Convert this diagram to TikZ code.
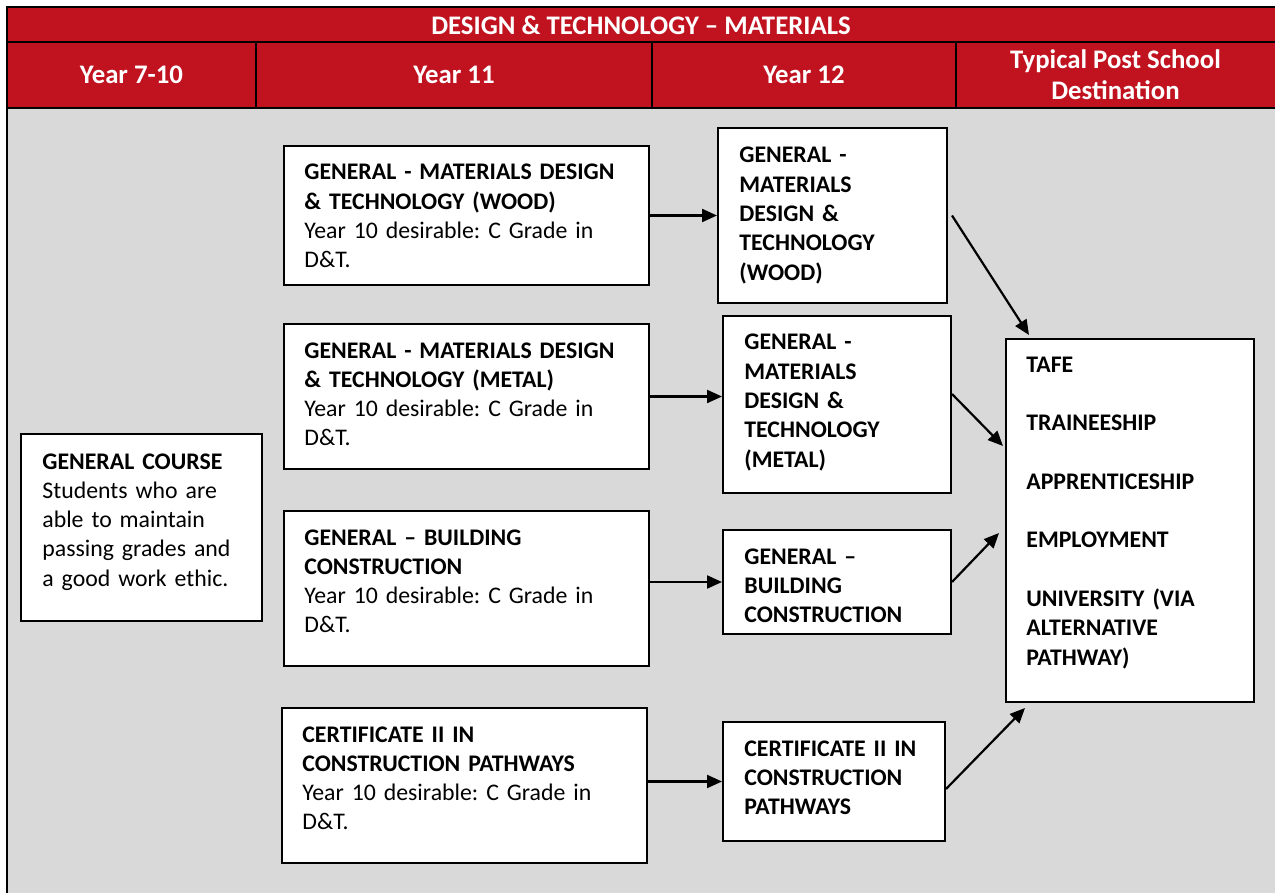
\documentclass[tikz,border=0pt]{standalone}
\usepackage{fontspec}
\setmainfont{Carlito}
\usetikzlibrary{arrows.meta}
\definecolor{hdrred}{HTML}{C0121F}
\definecolor{bodygray}{HTML}{D9D9D9}
\frenchspacing
\tikzset{
	box/.style={draw, fill=white, line width=1pt, inner sep=0pt},
	txt/.style={anchor=base west, text width=190pt, align=left, inner sep=0pt,
		font=\fontsize{11.9}{14.65}\selectfont},
	hdr/.style={text=white, align=center, inner sep=0pt,
		font=\bfseries\fontsize{13.4}{15.5}\selectfont},
	link/.style={-{Triangle[length=7.5pt,width=6.5pt]}, line width=1.1pt},
}
\begin{document}
\begin{tikzpicture}
		[x=0.5pt,y=-0.5pt]
		\useasboundingbox (0,0) rectangle (1275,893);
		
		% table frame
		\fill[bodygray] (7,108) rectangle (1275,893);
		\fill[hdrred] (7,7) rectangle (1275,108);
		\draw[line width=1pt] (1275,7) -- (7,7) -- (7,893);
		\draw[line width=1pt] (7,42) -- (1275,42);
		\draw[line width=1pt] (7,108) -- (1275,108);
		\draw[line width=1pt] (256,42) -- (256,108);
		\draw[line width=1pt] (652,42) -- (652,108);
		\draw[line width=1pt] (956,42) -- (956,108);
		
		\node[hdr] (title) at (641,25) {DESIGN \& TECHNOLOGY -- MATERIALS};
		\node[hdr] (y710) at (131.5,75) {Year 7-10};
		\node[hdr] (y11) at (454,75) {Year 11};
		\node[hdr] (y12) at (804,75) {Year 12};
		\node[hdr] (ypost) at (1115.5,75) {Typical Post School\\Destination};
		
		% boxes
		\node[box, minimum width=120.5pt, minimum height=93.5pt] (gc) at (141.5,527.5) {};
		\node[box, minimum width=182.5pt, minimum height=69.5pt] (w11) at (466.5,215.5) {};
		\node[box, minimum width=182.5pt, minimum height=72.5pt] (m11) at (466.5,396.5) {};
		\node[box, minimum width=182.5pt, minimum height=77.5pt] (b11) at (466.5,588.5) {};
		\node[box, minimum width=182.5pt, minimum height=77.5pt] (c11) at (464.5,785.5) {};
		\node[box, minimum width=114.5pt, minimum height=87.5pt] (w12) at (832.5,215.5) {};
		\node[box, minimum width=114pt, minimum height=88.5pt] (m12) at (837,404.5) {};
		\node[box, minimum width=114pt, minimum height=52pt] (b12) at (837,582) {};
		\node[box, minimum width=111pt, minimum height=59.5pt] (c12) at (834,781.5) {};
		\node[box, minimum width=124pt, minimum height=181.5pt] (dest) at (1130,520.5) {};
		
		% texts
		\node[txt] (gct) at (42,469) {\textbf{GENERAL COURSE}\\Students who are\\able to maintain\\passing grades and\\a good work ethic.};
		\node[txt] (w11t) at (304,180) {\textbf{GENERAL - MATERIALS DESIGN}\\\textbf{\& TECHNOLOGY (WOOD)}\\Year 10 desirable: C Grade in\\D\&T.};
		\node[txt] (m11t) at (304,358) {\textbf{GENERAL - MATERIALS DESIGN}\\\textbf{\& TECHNOLOGY (METAL)}\\Year 10 desirable: C Grade in\\D\&T.};
		\node[txt] (b11t) at (304,545) {\textbf{GENERAL -- BUILDING}\\\textbf{CONSTRUCTION}\\Year 10 desirable: C Grade in\\D\&T.};
		\node[txt] (c11t) at (302,742) {\textbf{CERTIFICATE II IN}\\\textbf{CONSTRUCTION PATHWAYS}\\Year 10 desirable: C Grade in\\D\&T.};
		\node[txt, font=\bfseries\fontsize{11.9}{14.65}\selectfont] (w12t) at (739,163) {GENERAL -\\MATERIALS\\DESIGN \&\\TECHNOLOGY\\(WOOD)};
		\node[txt, font=\bfseries\fontsize{11.9}{14.65}\selectfont] (m12t) at (744,350) {GENERAL -\\MATERIALS\\DESIGN \&\\TECHNOLOGY\\(METAL)};
		\node[txt, font=\bfseries\fontsize{11.9}{14.65}\selectfont] (b12t) at (744,564) {GENERAL --\\BUILDING\\CONSTRUCTION};
		\node[txt, font=\bfseries\fontsize{11.9}{14.65}\selectfont] (c12t) at (744,756) {CERTIFICATE II IN\\CONSTRUCTION\\PATHWAYS};
		\node[txt, font=\bfseries\fontsize{11.9}{14.65}\selectfont] (destt) at (1026,372) {TAFE\\[14.65pt]TRAINEESHIP\\[14.65pt]APPRENTICESHIP\\[14.65pt]EMPLOYMENT\\[14.65pt]UNIVERSITY (VIA\\ALTERNATIVE\\PATHWAY)};
		
		% arrows
		\draw[link] (w11.east) -- (w11.east -| w12.west);
		\draw[link] (m11.east) -- (m11.east -| m12.west);
		\draw[link] (b12.west -| b11.east) -- (b12.west);
		\draw[link] (c12.west -| c11.east) -- (c12.west);
		\draw[link] ([xshift=2pt]w12.east) -- ([xshift=12pt,yshift=1.5pt]dest.north west);
		\draw[link] ([yshift=5.25pt]m12.east) -- ([xshift=-1pt,yshift=-54pt]dest.north west);
		\draw[link] (b12.east) -- ([xshift=-3pt,yshift=-97.5pt]dest.north west);
		\draw[link] ([yshift=-3.75pt]c12.east) -- ([xshift=10pt,yshift=-2.5pt]dest.south west);
	
	\end{tikzpicture}
\end{document}
